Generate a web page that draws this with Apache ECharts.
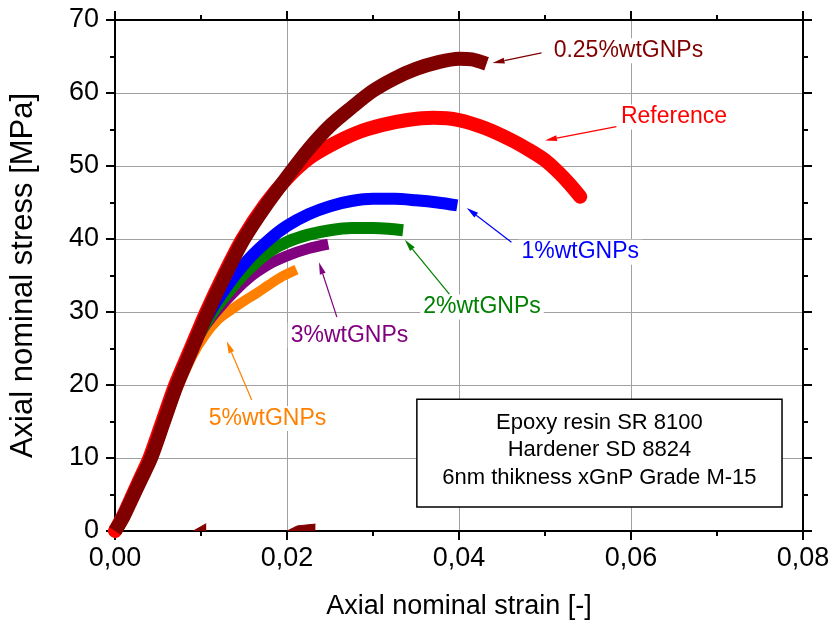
<!DOCTYPE html>
<html>
<head>
<meta charset="utf-8">
<script src="https://cdn.jsdelivr.net/npm/echarts@6/dist/echarts.min.js"></script>
<style>
html,body{margin:0;padding:0;background:#fff;}
#chart{width:833px;height:625px;}
</style>
</head>
<body>
<div id="chart"></div>
<script>
// ---- data (strain [-], stress [MPa]) ----
var xTickLabels = ['0,00', '0,02', '0,04', '0,06', '0,08'];
var yTickLabels = ['0', '10', '20', '30', '40', '50', '60', '70'];

var gnp025 = [[0,0],[0.001,2],[0.002,4.5],[0.003,7],[0.0042,10],[0.0057,15],[0.0072,20],[0.009,25],[0.0108,30],[0.0128,35],[0.015,40],[0.0175,44.5],[0.02,48.5],[0.0225,52.3],[0.025,55.5],[0.0275,58],[0.03,60.3],[0.0325,62],[0.035,63.3],[0.0375,64.2],[0.04,64.7],[0.0415,64.6],[0.0432,64]];
var gnp025Tail1 = [[0.0091,0],[0.0106,1.0]];
var gnp025Tail2 = [[0.0200,0],[0.0212,0.7],[0.0233,0.95]];
var reference = [[0,0],[0.001,2.2],[0.002,4.8],[0.003,7.4],[0.004,10],[0.0055,15],[0.007,20],[0.0088,25],[0.0106,30],[0.0126,35],[0.0148,40],[0.0175,44.8],[0.02,48.3],[0.0225,51],[0.025,52.8],[0.028,54.5],[0.031,55.6],[0.034,56.3],[0.037,56.6],[0.04,56.3],[0.043,55.2],[0.046,53.6],[0.048,52.3],[0.05,50.8],[0.0515,49.2],[0.0528,47.6],[0.0541,45.8]];
var gnp1 = [[0,0],[0.001,2],[0.002,4.5],[0.003,7],[0.0042,10],[0.0057,15],[0.0072,20],[0.009,25],[0.0108,29.5],[0.013,33.5],[0.0155,37.2],[0.018,40],[0.02,41.8],[0.0225,43.4],[0.025,44.5],[0.0275,45.2],[0.03,45.5],[0.0325,45.5],[0.035,45.3],[0.0375,45],[0.0398,44.6]];
var gnp2 = [[0,0],[0.001,2],[0.002,4.5],[0.003,7],[0.0042,10],[0.0057,15],[0.0072,20],[0.009,25],[0.0107,28.8],[0.013,32.5],[0.0155,35.8],[0.018,38.3],[0.02,39.6],[0.0225,40.6],[0.025,41.2],[0.0275,41.5],[0.03,41.5],[0.0318,41.4],[0.0335,41.2]];
var gnp3 = [[0,0],[0.001,2],[0.002,4.5],[0.003,7],[0.0042,10],[0.0057,15],[0.0072,20],[0.009,25],[0.0106,28.3],[0.013,31.7],[0.0155,34.6],[0.018,36.6],[0.02,37.7],[0.0225,38.7],[0.0248,39.3]];
var gnp5 = [[0,0],[0.001,2],[0.002,4.3],[0.003,6.8],[0.0042,9.8],[0.0057,14.5],[0.0072,19.3],[0.009,24],[0.0105,26.9],[0.012,29],[0.0135,30.3],[0.015,31.5],[0.0165,32.6],[0.018,33.8],[0.0195,34.9],[0.0211,35.8]];

// annotations (data coordinates)
var labelTexts = ['0.25%wtGNPs', 'Reference', '1%wtGNPs', '2%wtGNPs', '3%wtGNPs', '5%wtGNPs'];
var labelColors = ['#800000', '#ff0000', '#0000ff', '#008000', '#800080', '#ff8000'];
var labelPos = [[0.0597,65.8],[0.065,56.7],[0.0541,38.2],[0.04267,30.7],[0.02727,26.8],[0.01773,15.4]];
var arrowFrom = [[0.0496,65.5],[0.0583,55.4],[0.0461,39.55],[0.0389,32.4],[0.0258,29.3],[0.0159,17.95]];
var arrowTo = [[0.0439,64.1],[0.05,53.5],[0.0409,44.26],[0.0337,39.9],[0.02372,36.8],[0.01299,26.0]];
var boxCorners = [[0.0351,18.05],[0.07756,3.28]];
var boxLines = ['Epoxy resin SR 8100', 'Hardener SD 8824', '6nm thikness xGnP Grade M-15'];

var FONT = 'Arial, "Liberation Sans", sans-serif';

var chart = echarts.init(document.getElementById('chart'), null, {renderer: 'canvas'});

function lineSeries(name, data, color, width, extra) {
  var s = {
    name: name, type: 'line', data: data, xAxisIndex: 0, yAxisIndex: 0,
    symbol: 'none', smooth: 0.3, clip: true, silent: true,
    lineStyle: {color: color, width: width, cap: 'butt', join: 'round'},
    itemStyle: {color: color}
  };
  if (extra) for (var k in extra) s[k] = extra[k];
  return s;
}

var commonX = {
  type: 'value', min: 0, max: 0.08, interval: 0.02,
  axisLine: {show: true, onZero: false, lineStyle: {color: '#000', width: 2}},
  axisTick: {show: true, inside: false, length: 9, lineStyle: {color: '#000', width: 2}},
  minorTick: {show: true, splitNumber: 2, length: 5, lineStyle: {color: '#000', width: 2}},
  minorSplitLine: {show: false}
};
var commonY = {
  type: 'value', min: 0, max: 70, interval: 10,
  axisLine: {show: true, onZero: false, lineStyle: {color: '#000', width: 2}},
  axisTick: {show: true, inside: false, length: 9, lineStyle: {color: '#000', width: 2}},
  minorTick: {show: true, splitNumber: 2, length: 5, lineStyle: {color: '#000', width: 2}},
  minorSplitLine: {show: false}
};

var option = {
  animation: false,
  backgroundColor: '#fff',
  grid: {left: 115, right: 30, top: 20, bottom: 93, containLabel: false},
  xAxis: [
    Object.assign({}, commonX, {
      position: 'bottom',
      splitLine: {show: true, lineStyle: {color: '#a0a0a0', width: 1}},
      axisLabel: {show: true, color: '#000', fontSize: 27, fontFamily: FONT, margin: 14,
        formatter: function (v) { return xTickLabels[Math.round(v / 0.02)]; }},
      name: 'Axial nominal strain [-]', nameLocation: 'middle', nameGap: 62,
      nameTextStyle: {color: '#000', fontSize: 27, fontFamily: FONT}
    }),
    Object.assign({}, commonX, {
      position: 'top', splitLine: {show: false}, axisLabel: {show: false}
    })
  ],
  yAxis: [
    Object.assign({}, commonY, {
      position: 'left',
      splitLine: {show: true, lineStyle: {color: '#a0a0a0', width: 1}},
      axisLabel: {show: true, color: '#000', fontSize: 27, fontFamily: FONT, margin: 16,
        formatter: function (v) { return yTickLabels[Math.round(v / 10)]; }},
      name: 'Axial nominal stress [MPa]', nameLocation: 'middle', nameGap: 76,
      nameTextStyle: {color: '#000', fontSize: 31, fontFamily: FONT}
    }),
    Object.assign({}, commonY, {
      position: 'right', splitLine: {show: false}, axisLabel: {show: false}
    })
  ],
  series: [
    lineSeries('5%wtGNPs', gnp5, '#ff8000', 10),
    lineSeries('3%wtGNPs', gnp3, '#800080', 11),
    lineSeries('2%wtGNPs', gnp2, '#008000', 12),
    lineSeries('1%wtGNPs', gnp1, '#0000ff', 12),
    lineSeries('Reference', reference, '#ff0000', 14, {lineStyle: {color: '#ff0000', width: 14, cap: 'round', join: 'round'}}),
    lineSeries('0.25%wtGNPs', gnp025, '#800000', 14),
    lineSeries('0.25%wtGNPs tail 1', gnp025Tail1, '#800000', 1, {smooth: false, areaStyle: {color: '#800000', opacity: 1}}),
    lineSeries('0.25%wtGNPs tail 2', gnp025Tail2, '#800000', 1, {smooth: false, areaStyle: {color: '#800000', opacity: 1}})
  ]
};
chart.setOption(option);

function px(p) { return chart.convertToPixel({xAxisIndex: 0, yAxisIndex: 0}, p); }

var graphics = [];
for (var i = 0; i < labelTexts.length; i++) {
  var a = px(arrowFrom[i]), b = px(arrowTo[i]);
  var dx = b[0] - a[0], dy = b[1] - a[1];
  var len = Math.sqrt(dx * dx + dy * dy);
  var ux = dx / len, uy = dy / len;
  var hl = 12, hw = 3;
  var bx = b[0] - ux * hl, by = b[1] - uy * hl;
  graphics.push({
    type: 'line', z: 50, silent: true,
    shape: {x1: a[0], y1: a[1], x2: bx, y2: by},
    style: {stroke: labelColors[i], lineWidth: 1.2}
  });
  graphics.push({
    type: 'polygon', z: 50, silent: true,
    shape: {points: [[b[0], b[1]], [bx - uy * hw, by + ux * hw], [bx + uy * hw, by - ux * hw]]},
    style: {fill: labelColors[i]}
  });
  var lp = px(labelPos[i]);
  graphics.push({
    type: 'text', z: 60, silent: true, x: lp[0], y: lp[1],
    style: {text: labelTexts[i], fill: labelColors[i], font: '23px ' + FONT,
      align: 'center', verticalAlign: 'middle', backgroundColor: '#fff', padding: [1, 3]}
  });
}
var c1 = px(boxCorners[0]), c2 = px(boxCorners[1]);
graphics.push({
  type: 'rect', z: 60, silent: true,
  shape: {x: c1[0], y: c1[1], width: c2[0] - c1[0], height: c2[1] - c1[1]},
  style: {fill: '#fff', stroke: '#000', lineWidth: 1.5}
});
graphics.push({
  type: 'text', z: 61, silent: true,
  x: (c1[0] + c2[0]) / 2, y: (c1[1] + c2[1]) / 2 - 3,
  style: {text: boxLines.join('\n'), fill: '#000', font: '22px ' + FONT,
    align: 'center', verticalAlign: 'middle', lineHeight: 27.5}
});
chart.setOption({graphic: graphics});
</script>
</body>
</html>
